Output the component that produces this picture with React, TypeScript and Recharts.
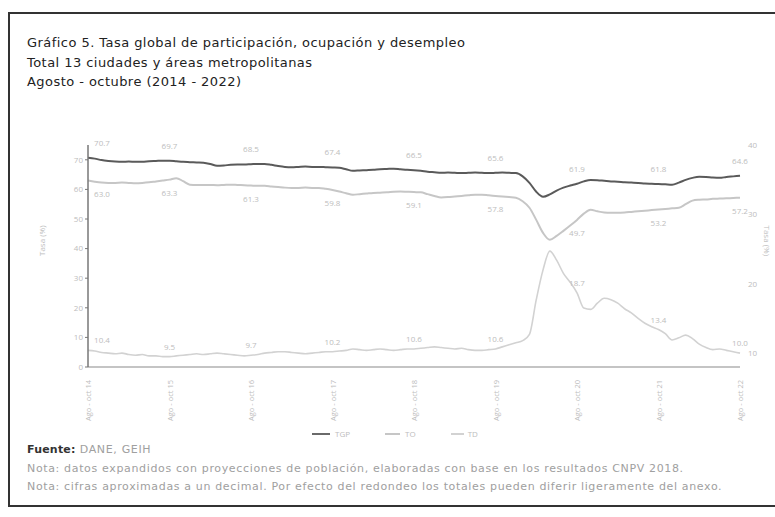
import React from 'react';
import { LineChart, Line, XAxis, YAxis } from 'recharts';

const quarterNames = ['Ago - oct', 'Sep - nov', 'Oct - dic', 'Nov - ene', 'Dic - feb', 'Ene - mar', 'Feb - abr', 'Mar - may', 'Abr - jun', 'May - jul', 'Jun - ago', 'Jul - sep'];

const tgp = [
  70.7, 70.4, 69.9, 69.6, 69.4, 69.3, 69.4, 69.3, 69.3, 69.5, 69.6, 69.7,
  69.7, 69.5, 69.3, 69.2, 69.1, 69.0, 68.6, 68.0, 68.1, 68.3, 68.4, 68.4,
  68.5, 68.6, 68.6, 68.3, 67.9, 67.6, 67.5, 67.6, 67.7, 67.6, 67.6, 67.5,
  67.4, 67.3, 66.8, 66.3, 66.4, 66.5, 66.6, 66.8, 66.9, 67.0, 66.8, 66.6,
  66.5, 66.3, 66.0, 65.8, 65.6, 65.7, 65.6, 65.5, 65.6, 65.7, 65.6, 65.5,
  65.6, 65.7, 65.6, 65.5, 64.4, 62.2, 59.2, 57.5, 58.3, 59.6, 60.6, 61.3,
  61.9, 62.7, 63.2, 63.1, 62.9, 62.7, 62.6, 62.4, 62.3, 62.2, 62.0, 61.9,
  61.8, 61.7, 61.6, 62.3, 63.2, 63.9, 64.3, 64.2, 64.0, 63.9, 64.2, 64.4,
  64.6,
];

const to = [
  63.0, 62.6, 62.3, 62.2, 62.2, 62.3, 62.2, 62.1, 62.2, 62.4, 62.7, 63.0,
  63.3, 63.8, 62.8, 61.6, 61.5, 61.5, 61.5, 61.4, 61.5, 61.6, 61.5, 61.4,
  61.3, 61.2, 61.2, 61.0, 60.8, 60.6, 60.5, 60.5, 60.6, 60.5, 60.5, 60.2,
  59.8, 59.3, 58.7, 58.2, 58.4, 58.6, 58.8, 58.9, 59.0, 59.2, 59.3, 59.2,
  59.1, 59.0, 58.4, 57.8, 57.3, 57.4, 57.6, 57.8, 58.0, 58.2, 58.2, 58.0,
  57.8, 57.6, 57.4, 57.2, 56.0, 53.8, 49.7, 45.3, 43.0, 44.3, 46.0, 47.8,
  49.7, 51.8, 53.1, 52.6, 52.2, 52.1, 52.1, 52.2, 52.4, 52.6, 52.8, 53.0,
  53.2, 53.4, 53.6, 53.8, 55.0, 56.2, 56.5, 56.6, 56.8, 56.9, 57.0, 57.1,
  57.2,
];

const td = [
  10.4, 10.3, 10.1, 10.0, 9.9, 10.0, 9.8, 9.7, 9.8, 9.6, 9.6, 9.5,
  9.5, 9.6, 9.7, 9.8, 9.9, 9.8, 9.9, 10.0, 9.9, 9.8, 9.7, 9.6,
  9.7, 9.8, 10.0, 10.1, 10.2, 10.2, 10.1, 10.0, 9.9, 10.0, 10.1, 10.2,
  10.2, 10.3, 10.4, 10.6, 10.5, 10.4, 10.5, 10.6, 10.5, 10.4, 10.5, 10.6,
  10.6, 10.7, 10.8, 10.9, 10.8, 10.7, 10.6, 10.7, 10.5, 10.4, 10.4, 10.5,
  10.6, 10.9, 11.2, 11.5, 11.8, 12.7, 17.7, 22.0, 24.7, 23.4, 21.5, 20.2,
  18.7, 16.5, 16.3, 17.2, 17.9, 17.7, 17.2, 16.4, 15.8, 15.0, 14.3, 13.8,
  13.4, 12.8, 11.9, 12.2, 12.6, 12.1, 11.3, 10.8, 10.5, 10.6, 10.4, 10.2,
  10.0,
];

const leftTicks = [0, 10, 20, 30, 40, 50, 60, 70];
const rightTicks = [10, 20, 30, 40];

const categories = tgp.map((_, i) => {
  const year = 2014 + Math.floor((9 + i) / 12);
  return `${quarterNames[i % 12]} ${String(year).slice(2)}`;
});

const data = categories.map((cat, i) => ({ cat, tgp: tgp[i], to: to[i], td: td[i] }));

const FONT = '"Open Sans", "DejaVu Sans", sans-serif';
const TEXT_FONT = '"DejaVu Sans", sans-serif';
const FAINT = '#bdbdbd';

const XTick = (props: any) => {
  const { x, y, payload } = props;
  return (
    <g transform={`translate(${x},${y})`}>
      <text transform="rotate(-90)" x={-5} y={3} textAnchor="end" fontSize={7.5} fill={FAINT} fontFamily={FONT}>
        {payload.value}
      </text>
    </g>
  );
};

const makeLabel = (dy: number) => (props: any) => {
  const { x, y, index, value } = props;
  if (index === undefined || index % 12 !== 0) return null;
  const dx = index === 0 ? 14 : 0;
  return (
    <text key={`l-${index}`} x={x + dx} y={y + dy} textAnchor="middle" fontSize={8} fill={FAINT} fontFamily={FONT}>
      {Number(value).toFixed(1)}
    </text>
  );
};

export default function App() {
  return (
    <div style={{ position: 'absolute', left: 0, top: 0, width: 775, height: 517, background: '#fff', fontFamily: FONT, overflow: 'hidden' }}>
      <div style={{ position: 'absolute', left: 8, top: 12, width: 790, height: 491, border: '2px solid #333' }} />
      <div style={{ position: 'absolute', left: 27, top: 33, fontSize: 13, letterSpacing: 0.45, color: '#222', lineHeight: '19.5px', fontFamily: TEXT_FONT }}>
        <div>Gráfico 5. Tasa global de participación, ocupación y desempleo</div>
        <div>Total 13 ciudades y áreas metropolitanas</div>
        <div>Agosto - octubre (2014 - 2022)</div>
      </div>
      <div style={{ position: 'absolute', left: 0, top: 0 }}>
        <LineChart width={775} height={517} data={data} margin={{ top: 145, right: 12, bottom: 90, left: 48 }}>
          <XAxis
            dataKey="cat"
            interval={11}
            height={60}
            tick={<XTick />}
            tickLine={false}
            axisLine={{ stroke: '#8a8a8a', strokeWidth: 1.2 }}
          />
          <YAxis
            yAxisId="left"
            domain={[0, 75]}
            ticks={leftTicks}
            width={40}
            tick={{ fontSize: 8, fill: FAINT, fontFamily: FONT }}
            tickLine={{ stroke: '#777' }}
            tickSize={3}
            axisLine={{ stroke: '#777', strokeWidth: 1.5 }}
            label={{ value: 'Tasa (%)', angle: -90, position: 'insideLeft', offset: -6, fontSize: 8, fill: FAINT, fontFamily: FONT }}
          />
          <YAxis
            yAxisId="right"
            orientation="right"
            domain={[8, 40]}
            ticks={rightTicks}
            width={23}
            tick={{ fontSize: 8, fill: FAINT, fontFamily: FONT }}
            tickLine={false}
            axisLine={false}
            label={{ value: 'Tasa (%)', angle: 90, position: 'insideRight', offset: -4, fontSize: 8, fill: FAINT, fontFamily: FONT }}
          />
          <Line yAxisId="left" type="monotone" dataKey="tgp" stroke="#5a5a5a" strokeWidth={2} dot={false} isAnimationActive={false} label={makeLabel(-12)} />
          <Line yAxisId="left" type="monotone" dataKey="to" stroke="#c6c6c6" strokeWidth={2} dot={false} isAnimationActive={false} label={makeLabel(16)} />
          <Line yAxisId="right" type="monotone" dataKey="td" stroke="#d2d2d2" strokeWidth={1.6} dot={false} isAnimationActive={false} label={makeLabel(-7)} />
        </LineChart>
      </div>
      <div style={{ position: 'absolute', top: 428, left: 312, fontSize: 8, color: FAINT, display: 'flex', alignItems: 'center' }}>
        <span style={{ display: 'inline-block', width: 18, height: 0, borderTop: '2px solid #6a6a6a', marginRight: 5 }} />
        <span style={{ marginRight: 35 }}>TGP</span>
        <span style={{ display: 'inline-block', width: 15, height: 0, borderTop: '2px solid #c6c6c6', marginRight: 5 }} />
        <span style={{ marginRight: 35 }}>TO</span>
        <span style={{ display: 'inline-block', width: 13, height: 0, borderTop: '2px solid #d2d2d2', marginRight: 4 }} />
        <span>TD</span>
      </div>
      <div style={{ position: 'absolute', left: 27, top: 441, fontSize: 11, letterSpacing: 0.65, lineHeight: '18.5px', color: '#a0a0a0', fontFamily: TEXT_FONT, whiteSpace: 'nowrap' }}>
        <div><span style={{ fontWeight: 700, color: '#333', letterSpacing: 0.2 }}>Fuente:</span> DANE, GEIH</div>
        <div>Nota: datos expandidos con proyecciones de población, elaboradas con base en los resultados CNPV 2018.</div>
        <div>Nota: cifras aproximadas a un decimal. Por efecto del redondeo los totales pueden diferir ligeramente del anexo.</div>
      </div>
    </div>
  );
}
